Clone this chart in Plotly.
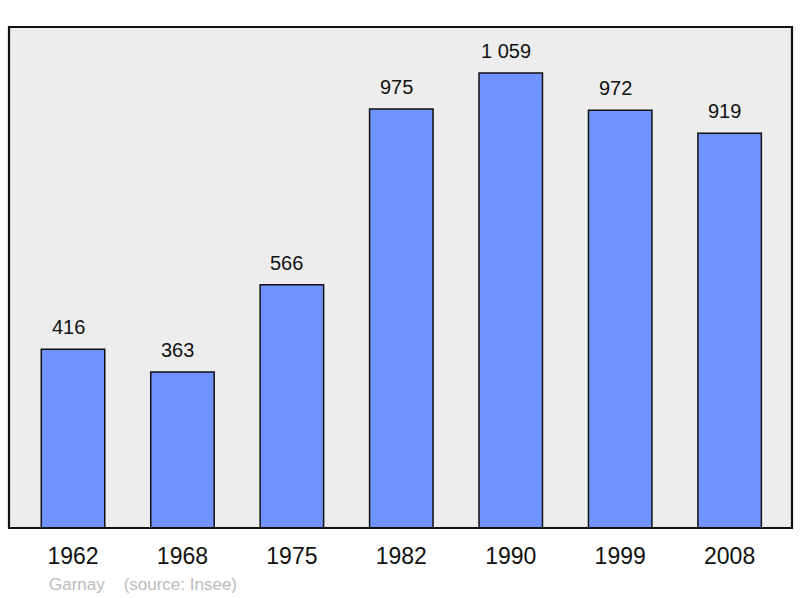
import plotly.graph_objects as go

years = ["1962", "1968", "1975", "1982", "1990", "1999", "2008"]
population = [416, 363, 566, 975, 1059, 972, 919]
labels = ["416", "363", "566", "975", "1 059", "972", "919"]

FONT = "Liberation Sans, Arial, sans-serif"

fig = go.Figure()
fig.add_trace(go.Bar(
    x=years, y=population, width=0.58,
    marker=dict(color="#7094ff", line=dict(color="#111111", width=1.5)),
    hoverinfo="skip",
))
for i, (v, t) in enumerate(zip(population, labels)):
    fig.add_annotation(x=i, y=v, text=t, showarrow=False, yshift=22, xshift=-5,
                       font=dict(size=20, color="#111111", family=FONT))

fig.add_annotation(xref="paper", yref="paper", x=0.049, y=-0.112, xanchor="left", yanchor="middle",
                   text="Garnay&nbsp;&nbsp;&nbsp;&nbsp;(source: Insee)", showarrow=False,
                   font=dict(size=17, color="#bbbbbb", family=FONT))

fig.add_shape(type="rect", xref="paper", yref="paper", x0=0, x1=1, y0=0, y1=1,
              line=dict(color="#111111", width=2.2), layer="above")

fig.update_layout(
    width=800, height=598,
    margin=dict(l=9, r=8, t=27, b=70),
    paper_bgcolor="white", plot_bgcolor="#ededed",
    showlegend=False,
    font=dict(family=FONT, color="#111111"),
    xaxis=dict(type="category", range=[-0.585, 6.57], showgrid=False, zeroline=False, ticks="",
               tickfont=dict(size=23, color="#111111"), ticklabelstandoff=12),
    yaxis=dict(range=[0, 1166], visible=False, showgrid=False, zeroline=False),
)
fig.write_html("out.html", config={"displayModeBar": False},
               post_script="document.body.style.margin='0';")
